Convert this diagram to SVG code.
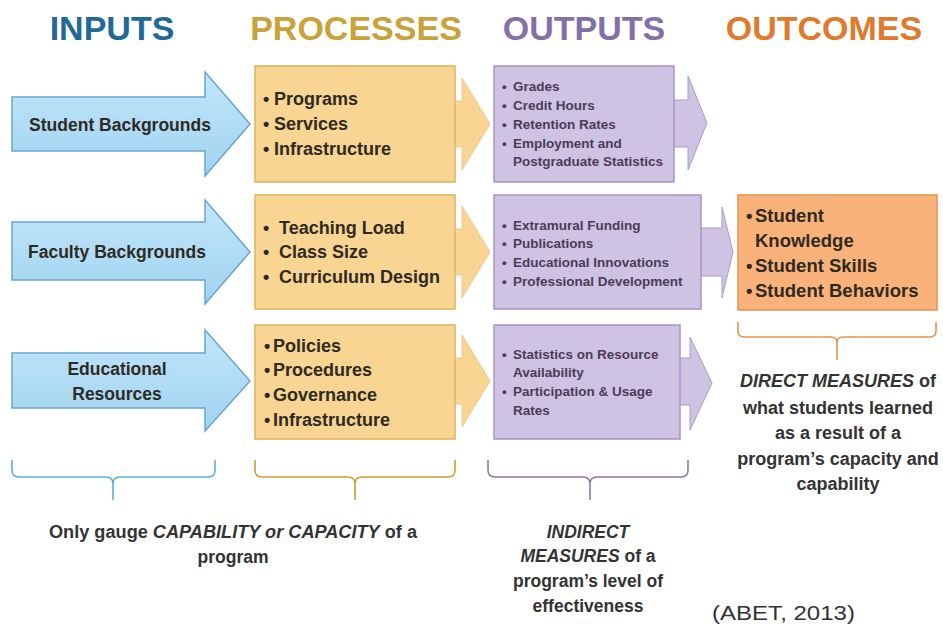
<svg xmlns="http://www.w3.org/2000/svg" width="943" height="630" viewBox="0 0 943 630">
<defs>
<linearGradient id="gb" x1="0" y1="0" x2="0" y2="1"><stop offset="0" stop-color="#c3e6fa"/><stop offset="1" stop-color="#9fd3f1"/></linearGradient>
<style>
.hd{font-family:"Liberation Sans",Arial,sans-serif;font-weight:bold;font-size:34px;text-anchor:middle}
.t{font-family:"Liberation Sans",Arial,sans-serif;font-weight:bold;fill:#2f2a22}
.in{font-size:17.5px;text-anchor:middle}
.pr{font-size:18px}
.op{font-size:13.5px;fill:#4a3c55}
.oc{font-size:18.5px}
.ft{font-family:"Liberation Sans",Arial,sans-serif;font-weight:bold;font-size:17.5px;fill:#333;text-anchor:middle}
.dm{font-size:18px}
.blue{fill:url(#gb);stroke:#6aa6cf;stroke-width:1.5}
.proc{fill:#f8d592;stroke:#e2b25c;stroke-width:1.5}
.parr{fill:#f8d592;stroke:#eccb8a;stroke-width:1}
.out{fill:#cfc3e3;stroke:#a595c5;stroke-width:1.5}
.oarr{fill:#cfc3e3;stroke:#ab9cc8;stroke-width:1}
.outc{fill:#f9b27a;stroke:#e8924c;stroke-width:1.5}
.br{fill:none;stroke-width:1.6}
</style>
</defs>
<rect width="943" height="630" fill="#fff"/>
<g id="headers">
<text class="hd" x="112" y="40" fill="#1f6a99">INPUTS</text>
<text class="hd" x="356" y="40" fill="#c9a23a">PROCESSES</text>
<text class="hd" x="584" y="40" fill="#8470a8">OUTPUTS</text>
<text class="hd" x="824" y="40" fill="#e07a2c">OUTCOMES</text>
</g>
<g id="connectors">
<path class="parr" d="M450,101 H462 V78 L490,124 L462,170 V147 H450 Z"/>
<path class="parr" d="M450,229 H462 V206 L490,252 L462,298 V275 H450 Z"/>
<path class="parr" d="M450,358 H462 V335 L490,381 L462,427 V404 H450 Z"/>
<path class="oarr" d="M670,100 H688 V76 L707,123 L688,170 V147 H670 Z"/>
<path class="oarr" d="M697,228 H722 V207 L733,252 L722,298 V276 H697 Z"/>
<path class="oarr" d="M676,358 H690 V337 L712,383 L690,430 V405 H676 Z"/>
</g>
<g id="input1">
<path class="blue" d="M12,97 H205 V72 L250,124 L205,176 V151 H12 Z"/>
<text class="t in" x="120" y="131">Student Backgrounds</text>
</g>
<g id="input2">
<path class="blue" d="M12,222 H205 V200 L250,252 L205,304 V280 H12 Z"/>
<text class="t in" x="117" y="258">Faculty Backgrounds</text>
</g>
<g id="input3">
<path class="blue" d="M12,353 H205 V330 L250,381 L205,431 V408 H12 Z"/>
<text class="t in" x="117" y="375">Educational</text>
<text class="t in" x="117" y="400">Resources</text>
</g>
<g id="process1">
<rect class="proc" x="255" y="66" width="200" height="116"/>
<text class="t pr" y="105"><tspan x="263">•</tspan><tspan x="274">Programs</tspan></text>
<text class="t pr" y="130"><tspan x="263">•</tspan><tspan x="274">Services</tspan></text>
<text class="t pr" y="155"><tspan x="263">•</tspan><tspan x="274">Infrastructure</tspan></text>
</g>
<g id="process2">
<rect class="proc" x="255" y="195" width="200" height="114"/>
<text class="t pr" y="234"><tspan x="263">•</tspan><tspan x="279">Teaching Load</tspan></text>
<text class="t pr" y="258"><tspan x="263">•</tspan><tspan x="279">Class Size</tspan></text>
<text class="t pr" y="283"><tspan x="263">•</tspan><tspan x="279">Curriculum Design</tspan></text>
</g>
<g id="process3">
<rect class="proc" x="255" y="325" width="200" height="114"/>
<text class="t pr" y="352"><tspan x="264">•</tspan><tspan x="273">Policies</tspan></text>
<text class="t pr" y="376"><tspan x="264">•</tspan><tspan x="273">Procedures</tspan></text>
<text class="t pr" y="401"><tspan x="264">•</tspan><tspan x="273">Governance</tspan></text>
<text class="t pr" y="426"><tspan x="264">•</tspan><tspan x="273">Infrastructure</tspan></text>
</g>
<g id="output1">
<rect class="out" x="494" y="66" width="180" height="116"/>
<text class="t op" y="91"><tspan x="502">•</tspan><tspan x="513">Grades</tspan></text>
<text class="t op" y="110"><tspan x="502">•</tspan><tspan x="513">Credit Hours</tspan></text>
<text class="t op" y="129"><tspan x="502">•</tspan><tspan x="513">Retention Rates</tspan></text>
<text class="t op" y="148"><tspan x="502">•</tspan><tspan x="513">Employment and</tspan></text>
<text class="t op" x="513" y="166">Postgraduate Statistics</text>
</g>
<g id="output2">
<rect class="out" x="494" y="195" width="207" height="114"/>
<text class="t op" y="230"><tspan x="502">•</tspan><tspan x="513">Extramural Funding</tspan></text>
<text class="t op" y="248"><tspan x="502">•</tspan><tspan x="513">Publications</tspan></text>
<text class="t op" y="267"><tspan x="502">•</tspan><tspan x="513">Educational Innovations</tspan></text>
<text class="t op" y="286"><tspan x="502">•</tspan><tspan x="513">Professional Development</tspan></text>
</g>
<g id="output3">
<rect class="out" x="494" y="325" width="186" height="114"/>
<text class="t op" y="359"><tspan x="502">•</tspan><tspan x="513">Statistics on Resource</tspan></text>
<text class="t op" x="513" y="377">Availability</text>
<text class="t op" y="396"><tspan x="502">•</tspan><tspan x="513">Participation &amp; Usage</tspan></text>
<text class="t op" x="513" y="415">Rates</text>
</g>
<g id="outcome">
<rect class="outc" x="738" y="195" width="199" height="115"/>
<text class="t oc" y="222"><tspan x="746">•</tspan><tspan x="755">Student</tspan></text>
<text class="t oc" x="755" y="247">Knowledge</text>
<text class="t oc" y="272"><tspan x="746">•</tspan><tspan x="755">Student Skills</tspan></text>
<text class="t oc" y="297"><tspan x="746">•</tspan><tspan x="755">Student Behaviors</tspan></text>
</g>
<g id="brackets">
<path class="br" stroke="#5aaedb" d="M12,460 V470 Q12,477 19,477 H106 Q113,477 113,484 V500 M113,484 Q113,477 120,477 H208 Q215,477 215,470 V460"/>
<path class="br" stroke="#c9a030" d="M255,460 V470 Q255,477 262,477 H348 Q355,477 355,484 V500 M355,484 Q355,477 362,477 H448 Q455,477 455,470 V460"/>
<path class="br" stroke="#8a7aa8" d="M488,460 V470 Q488,477 495,477 H583 Q590,477 590,484 V500 M590,484 Q590,477 597,477 H681 Q688,477 688,470 V460"/>
<path class="br" stroke="#e8924c" d="M738,322 V331 Q738,337 744,337 H831 Q837,337 837,343 V360 M837,343 Q837,337 843,337 H930 Q936,337 936,331 V322"/>
</g>
<g id="notes">
<text class="ft" x="233" y="538" textLength="368" lengthAdjust="spacingAndGlyphs">Only gauge <tspan font-style="italic">CAPABILITY or CAPACITY</tspan> of a</text>
<text class="ft" x="233" y="563">program</text>
<text class="ft" x="588" y="538" font-style="italic">INDIRECT</text>
<text class="ft" x="588" y="562"><tspan font-style="italic">MEASURES</tspan> of a</text>
<text class="ft" x="588" y="587">program’s level of</text>
<text class="ft" x="588" y="612">effectiveness</text>
<text class="ft dm" x="838" y="387"><tspan font-style="italic">DIRECT MEASURES</tspan> of</text>
<text class="ft dm" x="838" y="414">what students learned</text>
<text class="ft dm" x="838" y="439">as a result of a</text>
<text class="ft dm" x="838" y="465">program’s capacity and</text>
<text class="ft dm" x="838" y="490">capability</text>
<text x="712" y="620" font-family="'Liberation Sans',Arial,sans-serif" font-size="21" fill="#333" textLength="143" lengthAdjust="spacingAndGlyphs">(ABET, 2013)</text>
</g>
</svg>
